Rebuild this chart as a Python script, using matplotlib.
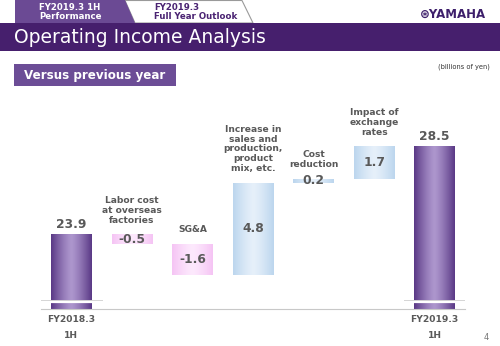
import numpy as np
import matplotlib
matplotlib.use("Agg")
import matplotlib.pyplot as plt
from matplotlib.colors import to_rgb
from matplotlib.patches import Polygon, Rectangle

# waterfall data (billions of yen)
categories = ["FY2018.3\n1H", "Labor cost\nat overseas\nfactories", "SG&A",
              "Increase in\nsales and\nproduction,\nproduct\nmix, etc.",
              "Cost\nreduction", "Impact of\nexchange\nrates", "FY2019.3\n1H"]
values = [23.9, -0.5, -1.6, 4.8, 0.2, 1.7, 28.5]
value_labels = ["23.9", "-0.5", "-1.6", "4.8", "0.2", "1.7", "28.5"]
is_total = [True, False, False, False, False, False, True]

TXT = "#595959"


def gradient(edge, center, n=64):
    t = np.abs(np.linspace(-1, 1, n)) ** 1.3
    e = np.array(to_rgb(edge))
    c = np.array(to_rgb(center))
    return (c[None, :] * (1 - t[:, None]) + e[None, :] * t[:, None])[None, :, :]


fig = plt.figure(figsize=(5, 3.46), dpi=100)
fig.patch.set_facecolor("white")

# ---- header in pixel coordinates
hd = fig.add_axes([0, 0, 1, 1])
hd.set_xlim(0, 500)
hd.set_ylim(346, 0)
hd.axis("off")

hd.add_patch(Polygon([(125, 0.5), (242, 0.5), (253, 23), (135, 23)], closed=True,
                     facecolor="white", edgecolor="#9a9a9a", lw=0.8))
hd.add_patch(Polygon([(15, 0), (125, 0), (135, 23), (15, 23)], closed=True,
                     facecolor="#6b4a94", edgecolor="none"))
hd.text(70, 12, "FY2019.3 1H\nPerformance", color="white", fontsize=6.2,
        fontweight="bold", ha="center", va="center", linespacing=1.05)
hd.text(154, 12, "FY2019.3\nFull Year Outlook", color="#4a2372", fontsize=6.2,
        fontweight="bold", ha="left", va="center", linespacing=1.05)
hd.text(486, 14, "\u229bYAMAHA", color="#3d1f6b", fontsize=8.5,
        fontweight="bold", ha="right", va="center")

hd.add_patch(Rectangle((0, 23), 500, 28, facecolor="#461f6d", edgecolor="none"))
hd.text(14, 37.5, "Operating Income Analysis", color="white", fontsize=13.5,
        ha="left", va="center")

hd.add_patch(Rectangle((14, 64), 162, 22, facecolor="#6c4d96", edgecolor="none"))
hd.text(24, 75.5, "Versus previous year", color="white", fontsize=8.6,
        fontweight="bold", ha="left", va="center")
hd.text(490, 67, "(billions of yen)", color="#333333", fontsize=4.8,
        ha="right", va="center")
hd.text(486, 338, "4", color="#777777", fontsize=6, ha="center", va="center")

# ---- waterfall chart
ax = fig.add_axes([0.082, 0.107, 0.848, 0.604])
ymin, ymax = 20.0, 30.92
x = np.arange(len(values))
w = 0.67

running = 0.0
bottoms, tops = [], []
for v, tot in zip(values, is_total):
    if tot:
        b, t = 0.0, v
        running = v
    else:
        b, t = running, running + v
        running += v
    bottoms.append(min(b, t))
    tops.append(max(b, t))

for i, v in enumerate(values):
    if is_total[i]:
        img = gradient("#5a3986", "#ad96cd")
    elif v < 0:
        img = gradient("#f5c4f4", "#fde9fd")
    else:
        img = gradient("#bcd6ee", "#e6f0fa")
    ax.imshow(img, extent=(x[i] - w / 2, x[i] + w / 2, bottoms[i], tops[i]),
              aspect="auto", interpolation="bilinear", zorder=2)

# axis break marks on total bars
for i in x[np.array(is_total)]:
    ax.plot([i - 0.5, i + 0.5], [20.47, 20.47], color="#d0d0d0", lw=0.7, zorder=3)
    ax.plot([i - 0.5, i + 0.5], [20.36, 20.36], color="white", lw=1.6, zorder=3)

for i, v in enumerate(values):
    mid = (bottoms[i] + tops[i]) / 2
    if is_total[i]:
        ax.text(x[i], tops[i] + 0.15, value_labels[i], ha="center", va="bottom",
                fontsize=8.8, fontweight="bold", color=TXT)
        ax.text(x[i], -0.03, categories[i], ha="center", va="top", fontsize=6.6,
                fontweight="bold", color=TXT, transform=ax.get_xaxis_transform(),
                linespacing=1.9)
    else:
        ax.text(x[i], mid, value_labels[i], ha="center", va="center",
                fontsize=8.8, fontweight="bold", color=TXT, zorder=4)
        ax.text(x[i], tops[i] + 0.5, categories[i], ha="center", va="bottom",
                fontsize=6.6, fontweight="bold", color=TXT, linespacing=1.12,
                clip_on=False)

ax.set_xlim(-0.5, 6.5)
ax.set_ylim(ymin, ymax)
for s in ["top", "left", "right"]:
    ax.spines[s].set_visible(False)
ax.spines["bottom"].set_color("#c8c8c8")
ax.spines["bottom"].set_linewidth(0.8)
ax.set_xticks([])
ax.set_yticks([])
ax.patch.set_alpha(0)

fig.savefig("out.png", dpi=100)
